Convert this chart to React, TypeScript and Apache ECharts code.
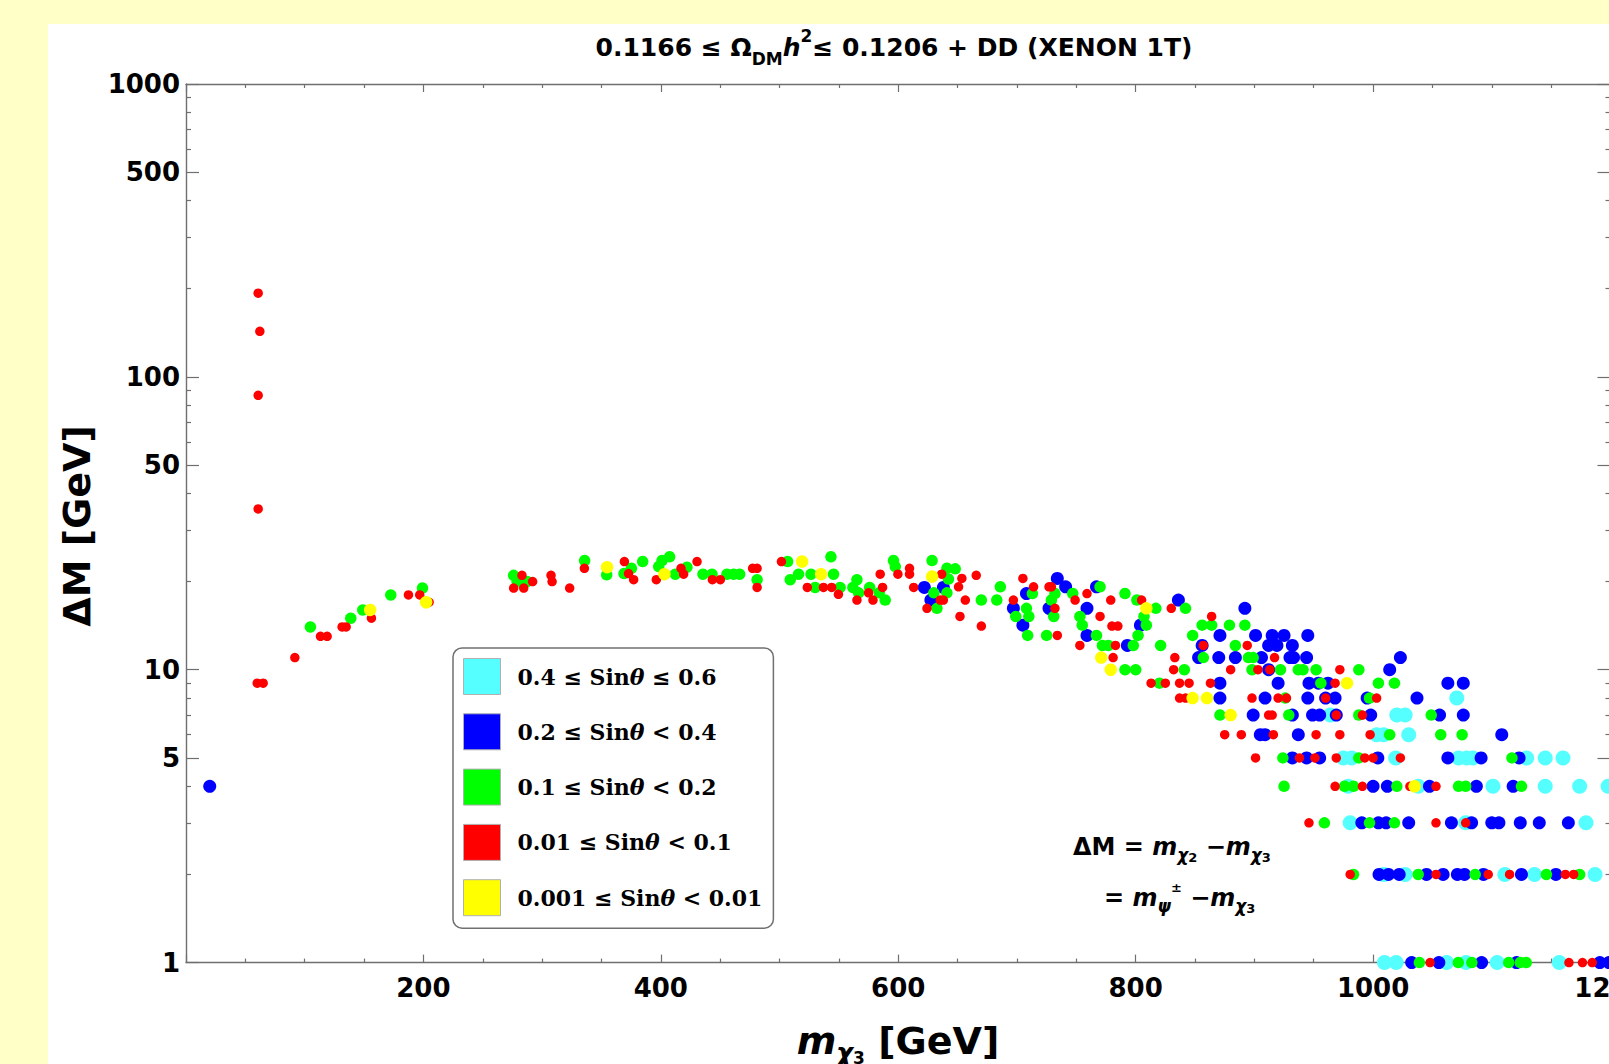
import React, { useEffect, useRef } from 'react';
import * as echarts from 'echarts';

// ---------- data ----------
const seriesNames = [
  '0.4 ≤ Sinθ ≤ 0.6',
  '0.2 ≤ Sinθ < 0.4',
  '0.1 ≤ Sinθ < 0.2',
  '0.01 ≤ Sinθ < 0.1',
  '0.001 ≤ Sinθ < 0.01',
];
const seriesColors = ['#55FFFF', '#0000FF', '#00FF00', '#FF0000', '#FFFF00'];
const seriesSymbolSizes = [15, 13, 11.5, 9.5, 12.5];

const cyanPoints: number[][] = [
  [964, 7], [975, 5], [982, 5], [979, 4], [980.7, 3], [1078, 3], [1179.4, 3], [1009, 2], [1027, 2], [1111, 2],
  [1136, 2], [1187, 2], [1070.5, 8], [1020, 7], [1027, 7], [1003, 6], [1009, 6], [1030, 6], [1019, 5], [1072, 5],
  [1079, 5], [1084, 5], [1129.4, 5], [1145, 5], [1160, 5], [1038, 4], [1101, 4], [1145, 4], [1174, 4], [1198, 4],
  [1009.6, 1], [1019.4, 1], [1062, 1], [1078.3, 1], [1104.5, 1], [1156.8, 1],
];

const bluePoints: number[][] = [
  [20, 4],
  [622, 19.1], [627.5, 17.3], [638, 19.1],
  [734, 20.5], [741, 19.2], [767, 19.2], [708, 18.2], [697, 16.2], [727, 16.2], [759, 16.2], [892, 16.2], [836, 17.3],
  [705, 14.2], [804, 14.2], [759, 13.1], [871, 13.1], [901, 13.1], [915, 13.1], [925, 13.1], [945, 13.1],
  [793, 12.1], [856, 12.1], [912, 12.1], [919, 12.1], [932, 12.1],
  [853, 11], [870, 11], [884, 11], [906, 11], [930, 11], [933, 11], [944, 11], [1023, 11],
  [912, 10], [1014, 10],
  [871, 9], [920, 9], [946, 9], [954, 9], [962, 9], [1063, 9], [1076, 9],
  [871, 8], [909, 8], [945, 8], [960, 8], [968, 8], [995, 8], [1037, 8],
  [899, 7], [932, 7], [949, 7], [955, 7], [969, 7], [998, 7], [1056, 7], [1076, 7],
  [905, 6], [909, 6], [937, 6], [1108.4, 6],
  [932, 5], [944, 5], [955, 5], [1004, 5], [1063, 5], [1091, 5], [1123, 5],
  [1000, 4], [1012, 4], [1047.5, 4], [1087, 4], [1118, 4],
  [990.5, 3], [1004.5, 3], [1011, 3], [1030, 3], [1066, 3], [1083, 3], [1100, 3], [1106, 3], [1124, 3], [1140, 3], [1164.5, 3],
  [1005, 2], [1013, 2], [1022, 2], [1045, 2], [1059, 2], [1071, 2], [1077, 2], [1093, 2], [1125, 2], [1154, 2],
  [1032.5, 1], [1055.4, 1], [1091.4, 1], [1120.8, 1], [1191, 1], [1198.6, 1],
];

const greenPoints: number[][] = [
  [104.8, 14], [138.8, 15], [148.9, 16], [172.5, 18], [199.2, 19],
  [276, 21], [278.9, 20], [287.3, 20], [335.8, 23.6], [354.4, 21.1], [369, 21.3], [375.2, 22.2], [384.7, 23.4],
  [398.2, 22.5], [401, 23.6], [407.4, 24.3], [412.2, 21.2], [422, 22.4], [435.5, 21.2], [443.1, 21.2], [455.7, 21.2],
  [461.3, 21.2], [466.4, 21.2], [481.1, 20.3], [506.8, 23.4], [509, 20.3], [516, 21.2], [526.5, 21.2], [530, 19.1],
  [543.3, 24.3], [545.5, 21.2], [551, 19.1], [565.2, 20.3], [561.8, 19.1], [566.6, 18.3], [575.9, 19.1], [584, 18.3],
  [589, 17.3], [596, 23.6], [597.5, 22.5], [628.5, 23.6], [632.6, 16.2], [630, 18.3], [641, 22.2], [641, 18.3],
  [642.3, 20.4], [648, 22.1],
  [670, 17.3], [683, 17.3], [686, 19.2], [699, 15.2], [710, 15.2], [708, 16.2], [713, 18.2], [709, 13.1], [725, 13.1],
  [732, 18.2], [729, 17.3], [731, 15.2], [747, 18.2], [753, 15.2], [755, 14.2], [767, 13.1], [770, 19.2], [791, 18.2],
  [801, 17.3], [807, 15.2], [809, 14.2], [802, 13.1], [817, 16.2], [842, 16.2], [856, 14.2], [864, 14.2], [879, 14.2],
  [892, 14.2], [848, 13.1], [772, 12.1], [777, 12.1], [798, 12.1], [821, 12.1], [884, 12.1], [857, 11], [895, 11],
  [899, 11], [791, 10], [800, 10], [841, 10], [898, 10], [922, 10], [937, 10], [941, 10], [952, 10], [988, 10],
  [820, 9], [956, 9], [1004.5, 9], [1018, 9], [926, 8], [997, 8], [871, 7], [929, 7], [988, 7], [1049, 7],
  [1014, 6], [1057, 6], [1075, 6], [924, 5], [988, 5], [1117, 5],
  [925, 4], [976, 4], [983.5, 4], [1020, 4], [1072, 4], [1078, 4], [1125, 4],
  [959, 3], [997, 3], [1018, 3],
  [983.5, 2], [1038, 2], [1086, 2], [1146, 2], [1174, 2],
  [1039, 1], [1071.8, 1], [1083.2, 1], [1114.3, 1], [1124, 1], [1129, 1],
];

const redPoints: number[][] = [
  [60.8, 193], [62.2, 143], [60.8, 86.5], [60.8, 35.4], [60, 9], [65, 9], [91.7, 11], [113.3, 13], [118.9, 13],
  [131.5, 14], [134.9, 14], [156.2, 15], [187.4, 18], [196.9, 18], [204.8, 17],
  [283, 21], [276, 19], [284.5, 19], [292, 20], [307.5, 21], [308.4, 20], [323.2, 19], [335.6, 22.2], [369.3, 23.4],
  [372.8, 21.3], [377.1, 20.3], [396.2, 20.3], [417, 22.2], [419.2, 21.2], [430.5, 23.4], [443.4, 20.3], [450.1, 20.3],
  [477.3, 22.2], [481.1, 22.2], [481.1, 19.1], [501.6, 23.4], [523.4, 19.1], [537, 19.1], [543.9, 19.1], [549.6, 18.1],
  [565.2, 17.3], [575, 18.3], [578.7, 17.3], [584.8, 21.2], [586.8, 19.1], [599.7, 21.2], [609.5, 22.2], [609.5, 21.2],
  [613, 19.1], [624.2, 16.2], [635.4, 17.3], [638, 17.3], [636.6, 21.2],
  [653.6, 20.5], [650.8, 19.2], [656.5, 17.3], [652, 15.2], [670, 14.1], [665.7, 21], [705, 20.5], [714, 19.2],
  [727, 19.2], [729, 19.2], [697, 17.3], [732, 16.2], [734, 13.1], [749, 17.3], [759, 18.2], [770, 15.2], [780, 14.1],
  [785, 14.1], [779, 17.3], [805, 17.3], [753, 12.1], [783, 12.1], [781, 11], [830, 16.2], [864, 15.2], [857, 12.1],
  [894, 12.1], [833, 11], [917, 11], [832, 10], [880, 10], [903, 10], [913, 10], [972, 10], [813, 9], [825, 9],
  [837, 9], [845, 9], [863, 9], [968, 9], [837, 8], [842, 8], [898, 8], [920, 8], [927, 8], [960, 8], [1003, 8],
  [912, 7], [915, 7], [969, 7], [991, 7], [875, 6], [889, 6], [916, 6], [952, 6], [972, 6], [997.5, 6],
  [901, 5], [938, 5], [951, 5], [969, 5], [993, 5], [1000, 5], [1023, 5],
  [968, 4], [991, 4], [1031, 4], [1053, 4],
  [946, 3], [1053, 3], [1078, 3],
  [980.7, 2], [1053, 2], [1097, 2], [1115, 2], [1162, 2], [1169, 2],
  [1048, 1], [1165, 1], [1176.4, 1], [1184.6, 1],
];

const yellowPoints: number[][] = [
  [155.1, 16], [202.3, 17], [354.7, 22.4], [403, 21.2], [519, 23.4], [535, 21.2], [628.5, 20.8], [809, 16.2],
  [771, 11], [779, 10], [848, 8], [860, 8], [880, 7], [978, 9], [1035, 4],
];

const allPoints = [cyanPoints, bluePoints, greenPoints, redPoints, yellowPoints];

const xMin = 0;
const xMax = 1200;
const xTickStep = 200;
const yMin = 1;
const yMax = 1000;
const yMajorTicks = [1, 5, 10, 50, 100, 500, 1000];
const yMinorTicks = [2, 3, 4, 6, 7, 8, 9, 20, 30, 40, 60, 70, 80, 90, 200, 300, 400, 600, 700, 800, 900];

const AXIS_COLOR = '#6f6f6f';
const SANS = 'DejaVu Sans';
const SERIF = 'DejaVu Serif';

export default function App() {
  const ref = useRef<HTMLDivElement>(null);

  useEffect(() => {
    if (!ref.current) return;
    const chart = echarts.init(ref.current, undefined, { renderer: 'svg' });
    const logMin = Math.log10(yMin);
    const logMax = Math.log10(yMax);
    const majorLog = yMajorTicks.map((v) => Math.log10(v));
    const minorLog = yMinorTicks.map((v) => Math.log10(v));

    const xAxisDef = (position: string, showLabel: boolean) => ({
      type: 'value',
      position,
      min: xMin,
      max: xMax,
      interval: xTickStep,
      axisLine: { show: true, onZero: false, lineStyle: { color: AXIS_COLOR, width: 1.4 } },
      axisTick: { show: true, inside: true, length: 8, lineStyle: { color: AXIS_COLOR, width: 1.2 } },
      minorTick: { show: true, splitNumber: 4, length: 4, lineStyle: { color: AXIS_COLOR, width: 1.2 } },
      splitLine: { show: false },
      minorSplitLine: { show: false },
      axisLabel: {
        show: showLabel,
        margin: 12,
        color: '#000',
        fontFamily: SANS,
        fontWeight: 'bold',
        fontSize: 26,
        showMinLabel: false,
        hideOverlap: false,
        formatter: (v: number) => (v === 0 ? '' : String(v)),
      },
    });

    const yTickAxis = (position: string, ticks: number[], len: number, showLine: boolean, showLabel: boolean) => ({
      type: 'value',
      position,
      min: logMin,
      max: logMax,
      axisLine: { show: showLine, onZero: false, lineStyle: { color: AXIS_COLOR, width: 1.4 } },
      axisTick: { show: true, inside: true, length: len, customValues: ticks, lineStyle: { color: AXIS_COLOR, width: 1.2 } },
      splitLine: { show: false },
      axisLabel: {
        show: showLabel,
        customValues: ticks,
        margin: 6,
        color: '#000',
        fontFamily: SANS,
        fontWeight: 'bold',
        fontSize: 26,
        formatter: (v: number) => String(Math.round(Math.pow(10, v))),
      },
    });

    const legendRich = {
      t: { fontFamily: SERIF, fontWeight: 'bold', fontSize: 22, color: '#000' },
      i: { fontFamily: SERIF, fontWeight: 'bold', fontStyle: 'italic', fontSize: 22, color: '#000' },
    };

    const tokenBase = { fontFamily: SANS, fontWeight: 'bold', fill: '#000' };

    chart.setOption({
      animation: false,
      grid: { left: 186, top: 84, width: 1424.5, height: 878.6, containLabel: false, outerBoundsMode: 'none' },
      xAxis: [xAxisDef('bottom', true), xAxisDef('top', false)],
      yAxis: [
        { type: 'log', logBase: 10, min: yMin, max: yMax, show: false },
        yTickAxis('left', majorLog, 13, true, true),
        yTickAxis('left', minorLog, 5, false, false),
        yTickAxis('right', majorLog, 13, true, false),
        yTickAxis('right', minorLog, 5, false, false),
      ],
      legend: {
        show: true,
        orient: 'vertical',
        left: 453,
        top: 648,
        itemWidth: 37,
        itemHeight: 36,
        itemGap: 18.3,
        padding: [10, 11, 12, 10],
        borderColor: '#707070',
        borderWidth: 1.5,
        borderRadius: 9,
        backgroundColor: '#ffffff',
        icon: 'rect',
        selectedMode: false,
        itemStyle: { borderColor: '#b0b0b0', borderWidth: 1 },
        textStyle: { padding: [0, 0, 0, 12], fontFamily: SERIF, fontWeight: 'bold', fontSize: 22, color: '#000', rich: legendRich },
        formatter: (name: string) => {
          const k = name.indexOf('θ');
          return `{t|${name.slice(0, k)}}{i|θ}{t|${name.slice(k + 1)}}`;
        },
        data: seriesNames,
      },
      series: allPoints.map((pts, i) => ({
        type: 'scatter',
        name: seriesNames[i],
        xAxisIndex: 0,
        yAxisIndex: 0,
        data: pts,
        symbol: 'circle',
        symbolSize: seriesSymbolSizes[i],
        itemStyle: { color: seriesColors[i], opacity: 1 },
        emphasis: { disabled: true },
        z: 2,
      })),
      graphic: [
        {
          type: 'text',
          x: 894,
          y: 47,
          style: {
            text: '{a|0.1166 ≤ Ω}{sub|DM}{it|h}{sup|2}{a|≤ 0.1206 + DD (XENON 1T)}',
            align: 'center',
            verticalAlign: 'middle',
            rich: {
              a: { ...tokenBase, fontSize: 25, lineHeight: 40 },
              sub: { ...tokenBase, fontSize: 17, lineHeight: 22, verticalAlign: 'bottom' },
              it: { ...tokenBase, fontStyle: 'italic', fontSize: 25, lineHeight: 40 },
              sup: { ...tokenBase, fontSize: 17, lineHeight: 14, verticalAlign: 'top' },
            },
          },
        },
        {
          type: 'text',
          x: 77,
          y: 526,
          rotation: Math.PI / 2,
          style: {
            text: 'ΔM [GeV]',
            align: 'center',
            verticalAlign: 'middle',
            fontFamily: SANS,
            fontWeight: 'bold',
            fontSize: 38,
            fill: '#000',
          },
        },
        {
          type: 'text',
          x: 898,
          y: 1041,
          style: {
            text: '{m|m}{c|χ}{n|3}{g| [GeV]}',
            align: 'center',
            verticalAlign: 'middle',
            rich: {
              m: { ...tokenBase, fontStyle: 'italic', fontSize: 38, lineHeight: 50 },
              c: { ...tokenBase, fontStyle: 'italic', fontSize: 26, lineHeight: 30, verticalAlign: 'bottom' },
              n: { ...tokenBase, fontSize: 17, lineHeight: 16, verticalAlign: 'bottom' },
              g: { ...tokenBase, fontSize: 38, lineHeight: 50 },
            },
          },
        },
        {
          type: 'text',
          x: 1073,
          y: 846.6,
          style: {
            text: '{a|ΔM = }{m|m}{s|χ}{n|2}{a| −}{m|m}{s|χ}{n|3}',
            align: 'left',
            verticalAlign: 'middle',
            rich: {
              a: { ...tokenBase, fontSize: 24, lineHeight: 34 },
              m: { ...tokenBase, fontStyle: 'italic', fontSize: 24, lineHeight: 34 },
              s: { ...tokenBase, fontStyle: 'italic', fontSize: 17, lineHeight: 16, verticalAlign: 'bottom' },
              n: { ...tokenBase, fontSize: 13, lineHeight: 10, verticalAlign: 'bottom' },
            },
          },
        },
        {
          type: 'text',
          x: 1104,
          y: 897.6,
          style: {
            text: '{a|= }{m|m}{s|ψ}{p|±}{a| −}{m|m}{s|χ}{n|3}',
            align: 'left',
            verticalAlign: 'middle',
            rich: {
              a: { ...tokenBase, fontSize: 24, lineHeight: 34 },
              m: { ...tokenBase, fontStyle: 'italic', fontSize: 24, lineHeight: 34 },
              s: { ...tokenBase, fontStyle: 'italic', fontSize: 17, lineHeight: 16, verticalAlign: 'bottom' },
              n: { ...tokenBase, fontSize: 13, lineHeight: 10, verticalAlign: 'bottom' },
              p: { ...tokenBase, fontSize: 13, lineHeight: 24, verticalAlign: 'top' },
            },
          },
        },
      ],
    });

    return () => chart.dispose();
  }, []);

  return (
    <div style={{ position: 'absolute', left: 0, top: 0, width: 1609, height: 1064, background: '#FFFFC8', overflow: 'hidden' }}>
      <div style={{ position: 'absolute', left: 48, top: 24, right: 0, bottom: 0, background: '#ffffff' }} />
      <div ref={ref} style={{ position: 'absolute', left: 0, top: 0, width: 1609, height: 1064 }} />
    </div>
  );
}
